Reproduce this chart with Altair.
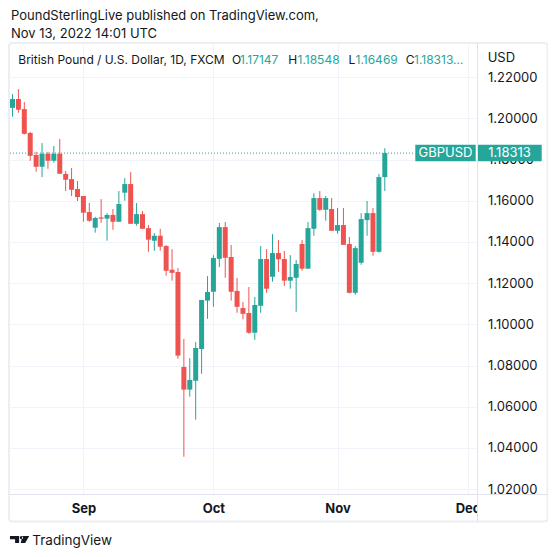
import altair as alt
import pandas as pd

# ---------------- data ----------------
DATES = pd.bdate_range("2022-08-16", "2022-11-11")
OPEN = [1.2051, 1.2094, 1.2045, 1.1929, 1.1822, 1.1765, 1.1828, 1.1794, 1.1828, 1.1730,
        1.1705, 1.1657, 1.1623, 1.1545, 1.1469, 1.1519, 1.1513, 1.1531, 1.1498, 1.1639,
        1.1681, 1.1488, 1.1535, 1.1467, 1.1406, 1.1430, 1.1380, 1.1265, 1.1254, 1.0793,
        1.0683, 1.0726, 1.0880, 1.1115, 1.1158, 1.1318, 1.1472, 1.1327, 1.1162, 1.1079,
        1.1055, 1.0959, 1.1090, 1.1317, 1.1231, 1.1346, 1.1317, 1.1212, 1.1226, 1.1390,
        1.1270, 1.1464, 1.1613, 1.1556, 1.1560, 1.1454, 1.1482, 1.1390, 1.1153, 1.1299,
        1.1506, 1.1540, 1.1352, 1.17147]
HIGH = [1.2118, 1.2142, 1.2079, 1.1935, 1.1838, 1.1880, 1.1838, 1.1866, 1.1900, 1.1744,
        1.1759, 1.1696, 1.1623, 1.1589, 1.1522, 1.1608, 1.1540, 1.1560, 1.1647, 1.1710,
        1.1739, 1.1589, 1.1550, 1.1482, 1.1443, 1.1464, 1.1385, 1.1365, 1.1273, 1.0929,
        1.0836, 1.0914, 1.1118, 1.1234, 1.1336, 1.1492, 1.1497, 1.1385, 1.1225, 1.1108,
        1.1181, 1.1133, 1.1380, 1.1365, 1.1438, 1.1409, 1.1356, 1.1336, 1.1312, 1.1409,
        1.1497, 1.1637, 1.1647, 1.1623, 1.1613, 1.1565, 1.1565, 1.1424, 1.1380, 1.1540,
        1.1599, 1.1565, 1.1730, 1.18548]
LOW = [1.2008, 1.2027, 1.1922, 1.1794, 1.1741, 1.1715, 1.1755, 1.1785, 1.1731, 1.1647,
       1.1623, 1.1599, 1.1498, 1.1498, 1.1445, 1.1493, 1.1406, 1.1459, 1.1498, 1.1600,
       1.1488, 1.1479, 1.1464, 1.1352, 1.1357, 1.1357, 1.1236, 1.1212, 1.0833, 1.0357,
       1.0649, 1.0537, 1.0760, 1.1027, 1.1085, 1.1278, 1.1226, 1.1115, 1.1056, 1.1024,
       1.0954, 1.0925, 1.1056, 1.1153, 1.1207, 1.1255, 1.1187, 1.1173, 1.1061, 1.1260,
       1.1270, 1.1430, 1.1551, 1.1503, 1.1454, 1.1440, 1.1386, 1.1150, 1.1144, 1.1289,
       1.1430, 1.1333, 1.1348, 1.16469]
CLOSE = [1.2094, 1.2042, 1.1925, 1.1818, 1.1765, 1.1828, 1.1794, 1.1828, 1.1731, 1.1702,
         1.1653, 1.1618, 1.1542, 1.1503, 1.1516, 1.1513, 1.1531, 1.1498, 1.1584, 1.1681,
         1.1488, 1.1535, 1.1464, 1.1411, 1.1430, 1.1377, 1.1260, 1.1250, 1.0848, 1.0683,
         1.0730, 1.0885, 1.1118, 1.1157, 1.1322, 1.1472, 1.1323, 1.1158, 1.1085, 1.1051,
         1.0959, 1.1094, 1.1317, 1.1173, 1.1346, 1.1316, 1.1212, 1.1230, 1.1293, 1.1270,
         1.1467, 1.1613, 1.1556, 1.1613, 1.1454, 1.1482, 1.1386, 1.1153, 1.1370, 1.1511,
         1.1540, 1.1352, 1.1715, 1.18313]

MONTHS = [9, 10, 11, 12]
MONTH_LABELS = ["Sep", "Oct", "Nov", "Dec"]
PRICE_TICKS = [1.02, 1.04, 1.06, 1.08, 1.10, 1.12, 1.14, 1.16, 1.18, 1.20, 1.22]
TITLE_LINES = ["PoundSterlingLive published on TradingView.com,", "Nov 13, 2022 14:01 UTC"]
SYMBOL = "GBPUSD"
CURRENCY = "USD"
SERIES_NAME = "British Pound / U.S. Dollar, 1D, FXCM"
FOOTER = "TradingView"

# ---------------- styling ----------------
GREEN = "#26a69a"
RED = "#ef5350"
TEXT = "#131722"
GRID = "#f0f3fa"
SEP = "#e0e3eb"
FONT = "Inter"
W, H = 467, 450
X_DOMAIN = [-0.42, 78.6]
Y_DOMAIN = [1.01762, 1.2361]

df = pd.DataFrame({"date": DATES, "open": OPEN, "high": HIGH, "low": LOW, "close": CLOSE})
df["i"] = range(len(df))
df["dir"] = ["up" if c >= o else "down" for o, c in zip(OPEN, CLOSE)]

ext = pd.bdate_range(DATES[0], "2022-12-30")
month_idx = [int(next(k for k, d in enumerate(ext) if d.month == m)) for m in MONTHS]
label_expr = " : ".join(f"datum.value == {k} ? '{lab}'" for k, lab in zip(month_idx, MONTH_LABELS)) + " : ''"

xscale = alt.Scale(domain=X_DOMAIN, nice=False, zero=False, padding=0)
yscale = alt.Scale(domain=Y_DOMAIN, nice=False, zero=False, padding=0)

x_axis = alt.Axis(values=month_idx, labelExpr=label_expr, grid=True, gridColor=GRID, gridWidth=1,
                  domain=False, ticks=False, tickSize=0, labelFont=FONT, labelFontSize=13,
                  labelFontWeight="bold", labelColor=TEXT, labelBaseline="middle",
                  labelPadding=14, title=None, zindex=0, labelFlush=False, labelOverlap=False)
y_axis = alt.Axis(values=PRICE_TICKS, format=".5f", orient="right", grid=True, gridColor=GRID,
                  gridWidth=1, domain=False, ticks=False, tickSize=0, labelFont=FONT,
                  labelFontSize=13, labelColor=TEXT, labelAlign="left", labelBaseline="middle",
                  labelPadding=10.5, title=None, zindex=0, labelFlush=False, labelOverlap=False)

color = alt.Color("dir:N", scale=alt.Scale(domain=["up", "down"], range=[GREEN, RED]), legend=None)

base = alt.Chart(df)
wicks = base.mark_rule(strokeWidth=1).encode(
    x=alt.X("i:Q", scale=xscale, axis=x_axis),
    y=alt.Y("low:Q", scale=yscale, axis=y_axis),
    y2="high:Q",
    color=color,
)
bodies = base.mark_bar(size=5).encode(
    x=alt.X("i:Q", scale=xscale),
    y=alt.Y("open:Q", scale=yscale),
    y2="close:Q",
    color=color,
)

last = pd.DataFrame({"price": [CLOSE[-1]], "sym": [SYMBOL], "label": [f"{CLOSE[-1]:.5f}"]})
lb = alt.Chart(last)
price_line = lb.mark_rule(color=GREEN, strokeWidth=1, strokeDash=[1, 2]).encode(
    x=alt.value(0), x2=alt.value(405), y=alt.Y("price:Q", scale=yscale))
tag1 = lb.mark_rule(color=GREEN, strokeWidth=16.5).encode(
    x=alt.value(405.3), x2=alt.value(465.7), y=alt.Y("price:Q", scale=yscale))
tag2 = lb.mark_rule(color=GREEN, strokeWidth=16.5).encode(
    x=alt.value(467.3), x2=alt.value(531.7), y=alt.Y("price:Q", scale=yscale))
tag1_t = lb.mark_text(color="white", font=FONT, fontSize=13, align="center", baseline="middle").encode(
    x=alt.value(435.5), y=alt.Y("price:Q", scale=yscale), text="sym:N")
tag2_t = lb.mark_text(color="white", font=FONT, fontSize=13, align="center", baseline="middle").encode(
    x=alt.value(499.5), y=alt.Y("price:Q", scale=yscale), text="label:N")

one = pd.DataFrame({"k": [0]})
ob = alt.Chart(one)

# cover for the date label that runs under the price scale
cover = ob.mark_rect(color="white").encode(
    x=alt.value(467.8), x2=alt.value(537), y=alt.value(450.5), y2=alt.value(477))

frame = ob.mark_rect(fill="transparent", stroke="#eceef4", strokeWidth=2, cornerRadius=3).encode(
    x=alt.value(-1), x2=alt.value(537.5), y=alt.value(-1), y2=alt.value(477.5))
vsep = ob.mark_rule(color=SEP, strokeWidth=1).encode(
    x=alt.value(467.5), y=alt.value(-1), y2=alt.value(477.5))
hsep = ob.mark_rule(color=SEP, strokeWidth=1).encode(
    x=alt.value(-1), x2=alt.value(537.5), y=alt.value(450.5))

def txt(s, x, y, color=TEXT, size=13, weight="normal", align="left"):
    d = pd.DataFrame({"t": [s]})
    return alt.Chart(d).mark_text(font=FONT, fontSize=size, fontWeight=weight, color=color,
                                  align=align, baseline="middle").encode(
        x=alt.value(x), y=alt.value(y), text="t:N")

texts = [
    txt(TITLE_LINES[0], 1, -28.5),
    txt(TITLE_LINES[1], 1, -10.5),
    txt(CURRENCY, 477.7, 14),
    txt(SERIES_NAME, 8.3, 15.7, size=12),
    txt("O", 222, 15.7, size=12),
    txt(f"{OPEN[-1]:.5f}", 230, 15.7, color=GREEN, size=12),
    txt("H", 278.3, 15.7, size=12),
    txt(f"{HIGH[-1]:.5f}", 287.5, 15.7, color=GREEN, size=12),
    txt("L", 338.5, 15.7, size=12),
    txt(f"{LOW[-1]:.5f}", 345.5, 15.7, color=GREEN, size=12),
    txt("C", 395.7, 15.7, size=12),
    txt(f"{CLOSE[-1]:.5f}…", 404, 15.7, color=GREEN, size=12),
    txt(FOOTER, 22.3, 497, size=13.5),
]

# TradingView logo glyph
LOGO_PATH = ("M-1,-0.37 L-0.05,-0.37 L-0.05,0.37 L-0.47,0.37 L-0.47,-0.03 L-1,-0.03 Z "
             "M0.30,-0.37 L1,-0.37 L0.58,0.37 L0.12,0.37 Z "
             "M0.02,-0.2 A0.17,0.17 0 1,0 0.36,-0.2 A0.17,0.17 0 1,0 0.02,-0.2 Z")
logo = ob.mark_point(shape=LOGO_PATH, filled=True, color=TEXT, size=370, opacity=1).encode(
    x=alt.value(9.6), y=alt.value(495.5))

chart = alt.layer(
    wicks, bodies, price_line, tag1, tag2, tag1_t, tag2_t, cover, frame, vsep, hsep, logo, *texts
).properties(
    width=W, height=H,
    autosize=alt.AutoSizeParams(type="none"),
    padding={"left": 2, "top": 36, "right": 71, "bottom": 57},
    background="white",
).configure_view(stroke=None)

chart.save("out.html", embed_options={"renderer": "svg", "actions": False})
